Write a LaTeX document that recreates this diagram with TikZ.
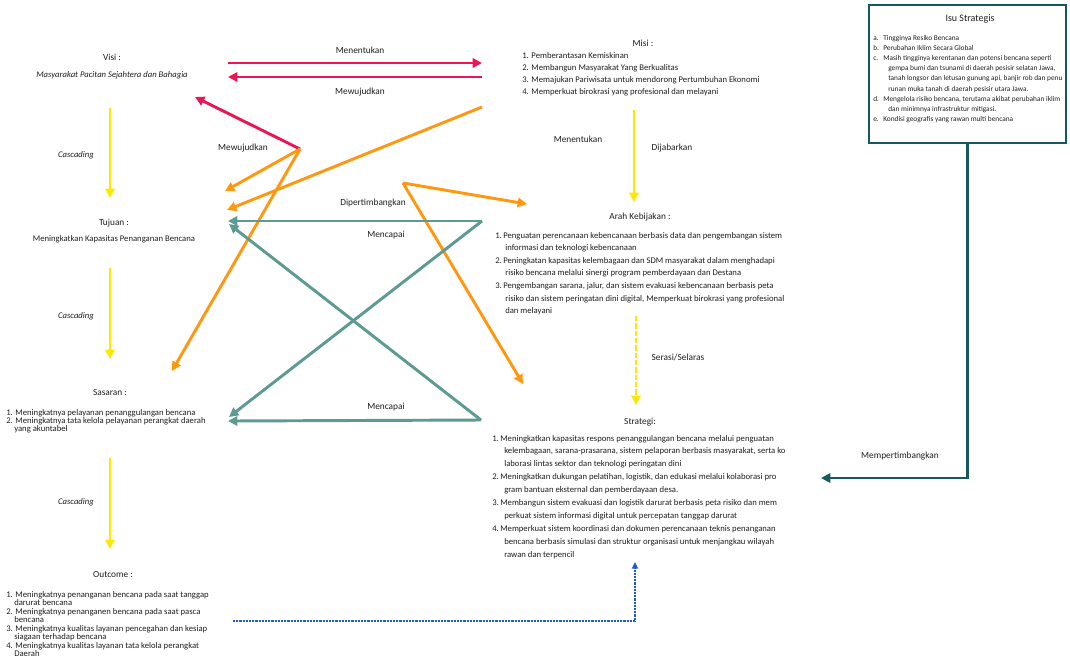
\documentclass[tikz,border=0pt]{standalone}
\usepackage{fontspec}
\setmainfont{Carlito}
\usetikzlibrary{arrows.meta}
\definecolor{cred}{RGB}{232,22,84}
\definecolor{corange}{RGB}{255,152,17}
\definecolor{cteal}{RGB}{92,154,146}
\definecolor{cdteal}{RGB}{22,88,96}
\definecolor{cyellow}{RGB}{255,232,0}
\definecolor{cblue}{RGB}{30,90,200}
\definecolor{ctext}{RGB}{30,30,30}
\begin{document}
\begin{tikzpicture}[x=0.75pt,y=-0.75pt,
  arr/.style={line width=2.2pt,-{Triangle[length=7pt,width=7pt]}},
  redarr/.style={arr,draw=cred},
  orarr/.style={arr,draw=corange},
  tlarr/.style={arr,draw=cteal},
  ylarr/.style={arr,draw=cyellow},
  lbl/.style={inner sep=0pt,text=ctext,font=\fontsize{7}{8}\selectfont},
  ttl/.style={inner sep=0pt,anchor=base,text=ctext,font=\fontsize{7}{8}\selectfont},
  body/.style={inner sep=0pt,anchor=base west,text=ctext,font=\fontsize{6.5}{8}\selectfont},
  small/.style={inner sep=0pt,anchor=base west,text=ctext,font=\fontsize{5.5}{6}\selectfont},
]
\useasboundingbox (0,0) rectangle (1070,662);

% ---------- Visi ----------
\node[ttl] (visit) at (112,60) {Visi :};
\node[ttl,font=\fontsize{6.5}{8}\selectfont\itshape] (visi) at (112,77) {Masyarakat Pacitan Sejahtera dan Bahagia};

% ---------- Misi ----------
\node[ttl] (misit) at (643,46) {Misi :};
\foreach \r/\t in {0/{1. Pemberantasan Kemiskinan},1/{2. Membangun Masyarakat Yang Berkualitas},2/{3. Memajukan Pariwisata untuk mendorong Pertumbuhan Ekonomi},3/{4. Memperkuat birokrasi yang profesional dan melayani}}
  \node[body] (misi\r) at (522,{58+12.3*\r}) {\t};

% ---------- Tujuan ----------
\node[ttl] (tujuant) at (114,225) {Tujuan :};
\node[ttl,font=\fontsize{6.5}{8}\selectfont] (tujuan) at (114,241) {Meningkatkan Kapasitas Penanganan Bencana};

% ---------- Sasaran ----------
\node[ttl] (sasarant) at (110,395) {Sasaran :};
\foreach \r/\t in {0/{1. Meningkatnya pelayanan penanggulangan bencana},1/{2. Meningkatnya tata kelola pelayanan perangkat daerah}}
  \node[body] (sas\r) at (6,{415+8*\r}) {\t};
\node[body] (sas2) at (14,431) {yang akuntabel};

% ---------- Outcome ----------
\node[ttl] (outt) at (113,577) {Outcome :};
\foreach \r/\t in {0/{1. Meningkatnya penanganan bencana pada saat tanggap},2/{2. Meningkatnya penanganen bencana pada saat pasca},4/{3. Meningkatnya kualitas layanan pencegahan dan kesiap},6/{4. Meningkatnya kualitas layanan tata kelola perangkat}}
  \node[body] (out\r) at (6,{597+8.5*\r}) {\t};
\foreach \r/\t in {1/{darurat bencana},3/{bencana},5/{siagaan terhadap bencana},7/{Daerah}}
  \node[body] (out\r) at (14,{597+8.5*\r}) {\t};

% ---------- Arah Kebijakan ----------
\node[ttl] (araht) at (640,219) {Arah Kebijakan :};
\foreach \r/\n/\t in {0/1./{Penguatan perencanaan kebencanaan berbasis data dan pengembangan sistem},2/2./{Peningkatan kapasitas kelembagaan dan SDM masyarakat dalam menghadapi},4/3./{Pengembangan sarana, jalur, dan sistem evakuasi kebencanaan berbasis peta}}
  {\node[body] (arahn\r) at (495,{238+12.6*\r}) {\n};
   \node[body] (arah\r) at (503,{238+12.6*\r}) {\t};}
\foreach \r/\t in {1/{informasi dan teknologi kebencanaan},3/{risiko bencana melalui sinergi program pemberdayaan dan Destana},5/{risiko dan sistem peringatan dini digital, Memperkuat birokrasi yang profesional},6/{dan melayani}}
  \node[body] (arah\r) at (505,{238+12.6*\r}) {\t};

% ---------- Strategi ----------
\node[ttl] (stratt) at (640,424) {Strategi:};
\foreach \r/\n/\t in {0/1./{Meningkatkan kapasitas respons penanggulangan bencana melalui penguatan},3/2./{Meningkatkan dukungan pelatihan, logistik, dan edukasi melalui kolaborasi pro},5/3./{Membangun sistem evakuasi dan logistik darurat berbasis peta risiko dan mem},7/4./{Memperkuat sistem koordinasi dan dokumen perencanaan teknis penanganan}}
  {\node[body] (stratn\r) at (492,{441+12.9*\r}) {\n};
   \node[body] (strat\r) at (500,{441+12.9*\r}) {\t};}
\foreach \r/\t in {1/{kelembagaan, sarana-prasarana, sistem pelaporan berbasis masyarakat, serta ko},2/{laborasi lintas sektor dan teknologi peringatan dini},4/{gram bantuan eksternal dan pemberdayaan desa.},6/{perkuat sistem informasi digital untuk percepatan tanggap darurat},8/{bencana berbasis simulasi dan struktur organisasi untuk menjangkau wilayah},9/{rawan dan terpencil}}
  \node[body] (strat\r) at (504,{441+12.9*\r}) {\t};

% ---------- Isu Strategis ----------
\node[draw=cdteal,line width=1.6pt,minimum width=147.5pt,minimum height=103pt,inner sep=0pt] (isu) at (967.5,74) {};
\node[ttl,font=\fontsize{7.5}{8}\selectfont] (isut) at (970,21) {Isu Strategis};
\foreach \r/\n/\t in {0/a./{Tingginya Resiko Bencana},1/b./{Perubahan Iklim Secara Global},2/c./{Masih tingginya kerentanan dan potensi bencana seperti},6/d./{Mengelola risiko bencana, terutama akibat perubahan iklim},8/e./{Kondisi geografis yang rawan multi bencana}}
  {\node[small] (isun\r) at (873,{40+10.2*\r}) {\n};
   \node[small] (isu\r) at (883,{40+10.2*\r}) {\t};}
\foreach \r/\t in {3/{gempa bumi dan tsunami di daerah pesisir selatan Jawa,},4/{tanah longsor dan letusan gunung api, banjir rob dan penu},5/{runan muka tanah di daerah pesisir utara Jawa.},7/{dan minimnya infrastruktur mitigasi.}}
  \node[small] (isu\r) at (888,{40+10.2*\r}) {\t};

% ---------- coordinates ----------
\coordinate (r1s) at (228,63);  \coordinate (r1e) at (482,63);
\coordinate (r2s) at (482,77);  \coordinate (r2e) at (228,77);
\coordinate (hub) at (300,149); \coordinate (redtip) at (195,97);
\coordinate (o1e) at (225,191);
\coordinate (o2s) at (482,107); \coordinate (o2e) at (227,210);
\coordinate (o3e) at (172,371);
\coordinate (ohub) at (403,183); \coordinate (o4e) at (527,204); \coordinate (o5e) at (523,384);
\coordinate (t1s) at (482,221); \coordinate (t1e) at (228,221);
\coordinate (t2e) at (229,417);
\coordinate (t3s) at (481,420); \coordinate (t3e) at (229,224);
\coordinate (t4e) at (228,421);
\coordinate (c1s) at (110,108); \coordinate (c1e) at (110,198);
\coordinate (c2s) at (110,268); \coordinate (c2e) at (110,359);
\coordinate (c3s) at (110,458); \coordinate (c3e) at (110,549);
\coordinate (m1s) at (634,110); \coordinate (m1e) at (634,202);
\coordinate (d1s) at (636,316); \coordinate (d1e) at (636,405);
\coordinate (bs) at (233,621);  \coordinate (be) at (635,562);
\coordinate (mt) at (821,478);

% ---------- red arrows ----------
\draw[redarr] (r1s) -- (r1e);
\draw[redarr] (r2s) -- (r2e);
\draw[redarr] (hub) -- (redtip);
% ---------- orange arrows ----------
\draw[orarr] (hub) -- (o1e);
\draw[orarr] (o2s) -- (o2e);
\draw[orarr] (hub) -- (o3e);
\draw[orarr] (ohub) -- (o4e);
\draw[orarr] (ohub) -- (o5e);
% ---------- teal arrows ----------
\draw[tlarr] (t1s) -- (t1e);
\draw[tlarr] (t1s) -- (t2e);
\draw[tlarr] (t3s) -- (t3e);
\draw[tlarr] (t3s) -- (t4e);
% ---------- yellow arrows ----------
\draw[ylarr] (c1s) -- (c1e);
\draw[ylarr] (c2s) -- (c2e);
\draw[ylarr] (c3s) -- (c3e);
\draw[ylarr] (m1s) -- (m1e);
\draw[ylarr,dash pattern=on 4pt off 1.5pt] (d1s) -- (d1e);
% ---------- blue dotted ----------
\draw[line width=1.6pt,cblue,dash pattern=on 1.6pt off 0.8pt,-{Triangle[length=5pt,width=4.5pt]}] (bs) -| (be);
% ---------- dark teal ----------
\draw[arr,draw=cdteal] (isu.south) |- (mt);

% ---------- labels ----------
\node[lbl] (lmen1) at (360,50) {Menentukan};
\node[lbl] (lmew1) at (360,92) {Mewujudkan};
\node[lbl] (lmew2) at (243,148) {Mewujudkan};
\node[lbl] (ldip) at (373,203) {Dipertimbangkan};
\node[lbl] (lmc1) at (386,235) {Mencapai};
\node[lbl] (lmc2) at (386,407) {Mencapai};
\node[lbl] (lmen2) at (578,139) {Menentukan};
\node[lbl] (ldij) at (672,148) {Dijabarkan};
\node[lbl] (lser) at (678,357) {Serasi/Selaras};
\node[lbl] (lmep) at (900,456) {Mempertimbangkan};
\node[lbl,font=\fontsize{6.5}{8}\selectfont\itshape] (lc1) at (76,155) {Cascading};
\node[lbl,font=\fontsize{6.5}{8}\selectfont\itshape] (lc2) at (76,316) {Cascading};
\node[lbl,font=\fontsize{6.5}{8}\selectfont\itshape] (lc3) at (76,502) {Cascading};
\end{tikzpicture}
\end{document}
